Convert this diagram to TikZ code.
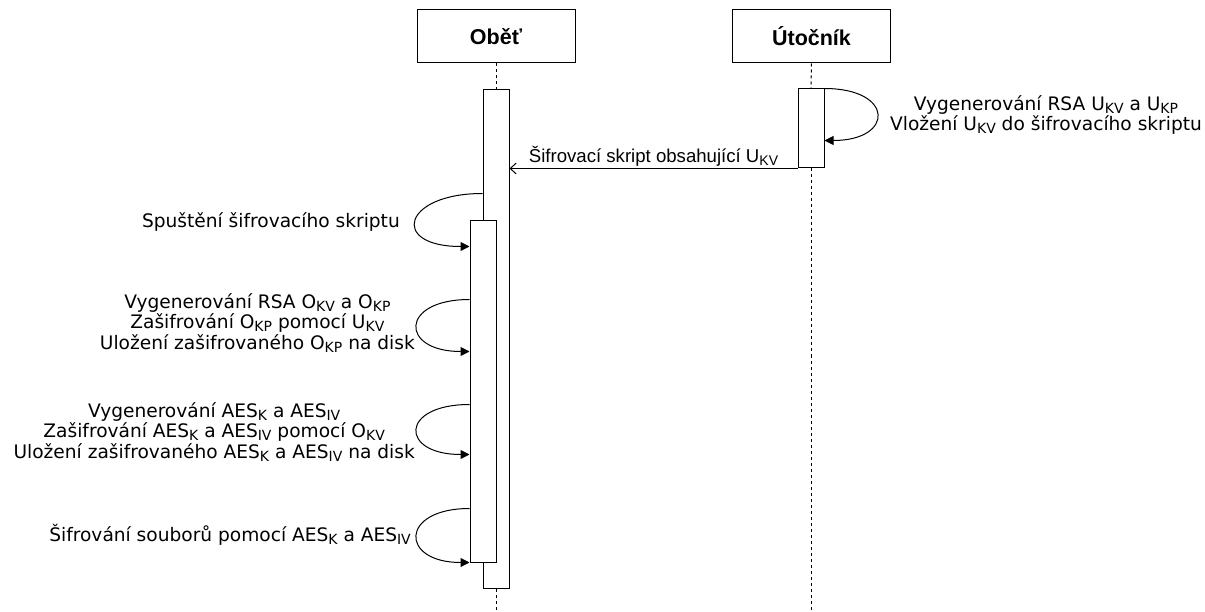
\documentclass[tikz,border=0pt]{standalone}
\usepackage{fontspec}
\setmainfont{DejaVu Sans}
\newfontfamily\hfont{Liberation Sans}
\usetikzlibrary{arrows.meta,calc}
\newcommand\sbs[1]{\raisebox{-3pt}{\fontsize{14}{15}\selectfont #1}}
\begin{document}
\begin{tikzpicture}[x=1pt,y=-1pt,
  head/.style={draw,line width=1pt,minimum width=158pt,minimum height=53pt,inner sep=0pt,
    font=\hfont\bfseries\fontsize{21.5}{24}\selectfont},
  actbox/.style={draw,fill=white,line width=1pt,minimum width=26pt,inner sep=0pt},
  life/.style={line width=1pt,dash pattern=on 3pt off 3pt},
  selfloop/.style={line width=1pt,-{Triangle[length=9pt,width=9pt]}},
  msg/.style={line width=1pt,-{Straight Barb[length=6pt,width=11pt]}},
  lbl/.style={font=\fontsize{18.6}{20.8}\selectfont,align=center,inner sep=0pt},
]
\useasboundingbox (0,0) rectangle (1205,612);

% headers
\node[head] (hO) at (496,36.5) {Oběť};
\node[head] (hU) at (811.5,36.5) {Útočník};

% activations
\node[actbox,minimum height=498pt] (aO) at (496,339) {};
\node[actbox,minimum height=341pt] (aO2) at (483,391.5) {};
\node[actbox,minimum height=79pt] (aU) at (811,128.5) {};

% lifelines
\coordinate (endO) at (496,612);
\coordinate (endU) at (811,612);
\draw[life] (hO.south) -- (aO.north);
\draw[life] (aO.south) -- (endO);
\draw[life] (hU.south) -- (aU.north);
\draw[life] (aU.south) -- (endU);

% attacker self loop
\coordinate (uE) at ($(aU.north east)+(0,52)$);
\draw[selfloop] (aU.north east) .. controls +(70,0) and +(70,0) .. (uE);
\node[lbl] (tU) at (1046,115) {Vygenerování RSA U\sbs{KV} a U\sbs{KP}\\Vložení U\sbs{KV} do šifrovacího skriptu};

% message
\draw[msg] (aU.south west) -- (aU.south west -| aO.east)
  node[midway,above=2pt,inner sep=0pt,font=\hfont\fontsize{18.6}{21}\selectfont] (tm) {Šifrovací skript obsahující U\sbs{KV}};

% victim loops
\coordinate (l1s) at ($(aO.north west)+(0,104)$);
\coordinate (l1e) at ($(aO2.north west)+(0,26)$);
\draw[selfloop] (l1s) .. controls +(-80,0) and +(-80,0) .. (l1e);
\node[lbl,anchor=east] (t1) at (400,222) {Spuštění šifrovacího skriptu};

\coordinate (l2s) at ($(aO2.north west)+(0,79)$);
\coordinate (l2e) at ($(aO2.north west)+(0,131)$);
\draw[selfloop] (l2s) .. controls +(-70,0) and +(-70,0) .. (l2e);
\node[lbl,anchor=east] (t2) at (415,323) {Vygenerování RSA O\sbs{KV} a O\sbs{KP}\\Zašifrování O\sbs{KP} pomocí U\sbs{KV}\\Uložení zašifrovaného O\sbs{KP} na disk};

\coordinate (l3s) at ($(aO2.north west)+(0,184)$);
\coordinate (l3e) at ($(aO2.north west)+(0,234)$);
\draw[selfloop] (l3s) .. controls +(-70,0) and +(-70,0) .. (l3e);
\node[lbl,anchor=east] (t3) at (415,432) {Vygenerování AES\sbs{K} a AES\sbs{IV}\\Zašifrování AES\sbs{K} a AES\sbs{IV} pomocí O\sbs{KV}\\Uložení zašifrovaného AES\sbs{K} a AES\sbs{IV} na disk};

\coordinate (l4s) at ($(aO2.north west)+(0,288)$);
\draw[selfloop] (l4s) .. controls +(-70,0) and +(-70,0) .. (aO2.south west);
\node[lbl,anchor=east] (t4) at (411,535) {Šifrování souborů pomocí AES\sbs{K} a AES\sbs{IV}};
\end{tikzpicture}
\end{document}
